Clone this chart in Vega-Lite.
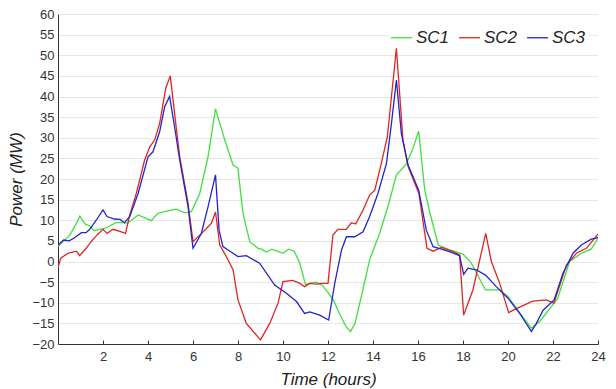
{
  "$schema": "https://vega.github.io/schema/vega-lite/v6.json",
  "width": 540,
  "height": 330,
  "autosize": {"type": "none"},
  "padding": {"left": 58, "top": 14, "right": 18, "bottom": 45},
  "background": "white",
  "config": {
    "font": "Liberation Sans",
    "view": {"stroke": null},
    "axis": {"labelFont": "Liberation Sans", "titleFont": "Liberation Sans", "labelColor": "#333333", "titleColor": "#222222", "domainColor": "#333333", "tickColor": "#333333"}
  },
  "data": {
    "values": [
      {"t": 0, "v": 3.6, "s": "SC1"}, {"t": 0.25, "v": 5, "s": "SC1"}, {"t": 0.5, "v": 6.2, "s": "SC1"}, {"t": 0.75, "v": 8.5, "s": "SC1"}, {"t": 0.97, "v": 11, "s": "SC1"}, {"t": 1.2, "v": 9.1, "s": "SC1"}, {"t": 1.41, "v": 8.6, "s": "SC1"}, {"t": 1.6, "v": 7.5, "s": "SC1"}, {"t": 2.07, "v": 8, "s": "SC1"}, {"t": 2.6, "v": 9.5, "s": "SC1"}, {"t": 3.1, "v": 9.3, "s": "SC1"}, {"t": 3.56, "v": 11.3, "s": "SC1"}, {"t": 4.15, "v": 9.9, "s": "SC1"}, {"t": 4.44, "v": 11.7, "s": "SC1"}, {"t": 4.89, "v": 12.3, "s": "SC1"}, {"t": 5.26, "v": 12.7, "s": "SC1"}, {"t": 5.63, "v": 11.8, "s": "SC1"}, {"t": 5.93, "v": 12.1, "s": "SC1"}, {"t": 6.3, "v": 16.5, "s": "SC1"}, {"t": 6.67, "v": 25.4, "s": "SC1"}, {"t": 7, "v": 37, "s": "SC1"}, {"t": 7.41, "v": 29.5, "s": "SC1"}, {"t": 7.78, "v": 23.4, "s": "SC1"}, {"t": 8, "v": 22.6, "s": "SC1"}, {"t": 8.1, "v": 17.5, "s": "SC1"}, {"t": 8.22, "v": 11.7, "s": "SC1"}, {"t": 8.52, "v": 4.8, "s": "SC1"}, {"t": 8.89, "v": 3.2, "s": "SC1"}, {"t": 9.05, "v": 3, "s": "SC1"}, {"t": 9.25, "v": 2.3, "s": "SC1"}, {"t": 9.5, "v": 3, "s": "SC1"}, {"t": 9.75, "v": 2.5, "s": "SC1"}, {"t": 10, "v": 2, "s": "SC1"}, {"t": 10.25, "v": 3, "s": "SC1"}, {"t": 10.5, "v": 2.5, "s": "SC1"}, {"t": 10.75, "v": -0.5, "s": "SC1"}, {"t": 11, "v": -5.6, "s": "SC1"}, {"t": 11.25, "v": -5.2, "s": "SC1"}, {"t": 11.5, "v": -5, "s": "SC1"}, {"t": 11.75, "v": -5.8, "s": "SC1"}, {"t": 12, "v": -7.5, "s": "SC1"}, {"t": 12.25, "v": -9.5, "s": "SC1"}, {"t": 12.5, "v": -12.5, "s": "SC1"}, {"t": 12.8, "v": -15.8, "s": "SC1"}, {"t": 13, "v": -17, "s": "SC1"}, {"t": 13.2, "v": -15, "s": "SC1"}, {"t": 13.5, "v": -8, "s": "SC1"}, {"t": 13.85, "v": 0.4, "s": "SC1"}, {"t": 14.3, "v": 6.9, "s": "SC1"}, {"t": 14.7, "v": 14, "s": "SC1"}, {"t": 15.04, "v": 21, "s": "SC1"}, {"t": 15.45, "v": 23.4, "s": "SC1"}, {"t": 15.75, "v": 27, "s": "SC1"}, {"t": 16.03, "v": 31.6, "s": "SC1"}, {"t": 16.3, "v": 17.3, "s": "SC1"}, {"t": 16.52, "v": 12, "s": "SC1"}, {"t": 16.9, "v": 4, "s": "SC1"}, {"t": 17.41, "v": 2.8, "s": "SC1"}, {"t": 18, "v": 1.8, "s": "SC1"}, {"t": 18.37, "v": -0.4, "s": "SC1"}, {"t": 19, "v": -6.9, "s": "SC1"}, {"t": 19.63, "v": -6.9, "s": "SC1"}, {"t": 20, "v": -8.5, "s": "SC1"}, {"t": 20.5, "v": -12.3, "s": "SC1"}, {"t": 21.04, "v": -16.2, "s": "SC1"}, {"t": 21.4, "v": -14.6, "s": "SC1"}, {"t": 22.05, "v": -10.1, "s": "SC1"}, {"t": 22.2, "v": -9, "s": "SC1"}, {"t": 22.74, "v": 0, "s": "SC1"}, {"t": 23.26, "v": 2, "s": "SC1"}, {"t": 23.7, "v": 3, "s": "SC1"}, {"t": 24, "v": 5.6, "s": "SC1"},
      {"t": 0, "v": -1.5, "s": "SC2"}, {"t": 0.12, "v": 0.8, "s": "SC2"}, {"t": 0.44, "v": 2, "s": "SC2"}, {"t": 0.82, "v": 2.5, "s": "SC2"}, {"t": 0.96, "v": 1.4, "s": "SC2"}, {"t": 1.25, "v": 3.2, "s": "SC2"}, {"t": 1.5, "v": 5, "s": "SC2"}, {"t": 1.75, "v": 6.5, "s": "SC2"}, {"t": 2, "v": 7.8, "s": "SC2"}, {"t": 2.18, "v": 6.8, "s": "SC2"}, {"t": 2.44, "v": 7.8, "s": "SC2"}, {"t": 2.75, "v": 7.3, "s": "SC2"}, {"t": 3, "v": 6.8, "s": "SC2"}, {"t": 3.19, "v": 11.3, "s": "SC2"}, {"t": 3.48, "v": 16.5, "s": "SC2"}, {"t": 3.85, "v": 24.6, "s": "SC2"}, {"t": 4.08, "v": 27.8, "s": "SC2"}, {"t": 4.3, "v": 29.5, "s": "SC2"}, {"t": 4.52, "v": 33.5, "s": "SC2"}, {"t": 4.79, "v": 42, "s": "SC2"}, {"t": 4.99, "v": 45, "s": "SC2"}, {"t": 5.2, "v": 35, "s": "SC2"}, {"t": 5.41, "v": 25.4, "s": "SC2"}, {"t": 5.78, "v": 14.1, "s": "SC2"}, {"t": 6, "v": 4.8, "s": "SC2"}, {"t": 6.3, "v": 6.4, "s": "SC2"}, {"t": 6.6, "v": 8, "s": "SC2"}, {"t": 6.82, "v": 9.3, "s": "SC2"}, {"t": 7, "v": 12, "s": "SC2"}, {"t": 7.19, "v": 4, "s": "SC2"}, {"t": 7.48, "v": 1.2, "s": "SC2"}, {"t": 7.78, "v": -2, "s": "SC2"}, {"t": 8, "v": -9.3, "s": "SC2"}, {"t": 8.37, "v": -15, "s": "SC2"}, {"t": 9, "v": -19, "s": "SC2"}, {"t": 9.41, "v": -15, "s": "SC2"}, {"t": 9.78, "v": -10.1, "s": "SC2"}, {"t": 10, "v": -4.9, "s": "SC2"}, {"t": 10.44, "v": -4.6, "s": "SC2"}, {"t": 10.75, "v": -5.3, "s": "SC2"}, {"t": 10.96, "v": -6.1, "s": "SC2"}, {"t": 11.19, "v": -5.3, "s": "SC2"}, {"t": 11.48, "v": -5.5, "s": "SC2"}, {"t": 11.75, "v": -5.3, "s": "SC2"}, {"t": 12, "v": -5.3, "s": "SC2"}, {"t": 12.22, "v": 6.4, "s": "SC2"}, {"t": 12.44, "v": 7.8, "s": "SC2"}, {"t": 12.81, "v": 7.8, "s": "SC2"}, {"t": 13.04, "v": 9.4, "s": "SC2"}, {"t": 13.23, "v": 9.1, "s": "SC2"}, {"t": 13.56, "v": 12.5, "s": "SC2"}, {"t": 13.85, "v": 16.1, "s": "SC2"}, {"t": 14.08, "v": 17.3, "s": "SC2"}, {"t": 14.37, "v": 23.8, "s": "SC2"}, {"t": 14.64, "v": 30.3, "s": "SC2"}, {"t": 15.04, "v": 51.7, "s": "SC2"}, {"t": 15.33, "v": 29.5, "s": "SC2"}, {"t": 15.56, "v": 23, "s": "SC2"}, {"t": 16.04, "v": 16.5, "s": "SC2"}, {"t": 16.4, "v": 3.2, "s": "SC2"}, {"t": 16.67, "v": 2.5, "s": "SC2"}, {"t": 17.04, "v": 3.4, "s": "SC2"}, {"t": 17.56, "v": 2.4, "s": "SC2"}, {"t": 17.85, "v": 1.6, "s": "SC2"}, {"t": 18.03, "v": -13, "s": "SC2"}, {"t": 18.44, "v": -6.9, "s": "SC2"}, {"t": 19.01, "v": 6.8, "s": "SC2"}, {"t": 19.26, "v": 0, "s": "SC2"}, {"t": 19.63, "v": -5.3, "s": "SC2"}, {"t": 20.03, "v": -12.4, "s": "SC2"}, {"t": 20.3, "v": -11.6, "s": "SC2"}, {"t": 21.1, "v": -9.6, "s": "SC2"}, {"t": 21.7, "v": -9.3, "s": "SC2"}, {"t": 22.04, "v": -10.1, "s": "SC2"}, {"t": 22.6, "v": -0.8, "s": "SC2"}, {"t": 23.04, "v": 2, "s": "SC2"}, {"t": 23.48, "v": 3.2, "s": "SC2"}, {"t": 24, "v": 6.6, "s": "SC2"},
      {"t": 0, "v": 4, "s": "SC3"}, {"t": 0.25, "v": 5.2, "s": "SC3"}, {"t": 0.5, "v": 5, "s": "SC3"}, {"t": 0.75, "v": 5.8, "s": "SC3"}, {"t": 1.04, "v": 7, "s": "SC3"}, {"t": 1.25, "v": 7, "s": "SC3"}, {"t": 1.41, "v": 7.8, "s": "SC3"}, {"t": 1.7, "v": 10, "s": "SC3"}, {"t": 2, "v": 12.5, "s": "SC3"}, {"t": 2.18, "v": 10.9, "s": "SC3"}, {"t": 2.5, "v": 10.3, "s": "SC3"}, {"t": 2.75, "v": 10.2, "s": "SC3"}, {"t": 2.96, "v": 9.4, "s": "SC3"}, {"t": 3.19, "v": 10.9, "s": "SC3"}, {"t": 3.56, "v": 16.5, "s": "SC3"}, {"t": 4, "v": 25.4, "s": "SC3"}, {"t": 4.22, "v": 26.6, "s": "SC3"}, {"t": 4.52, "v": 31.5, "s": "SC3"}, {"t": 4.74, "v": 37.5, "s": "SC3"}, {"t": 4.96, "v": 40, "s": "SC3"}, {"t": 5.2, "v": 32, "s": "SC3"}, {"t": 5.41, "v": 24.6, "s": "SC3"}, {"t": 5.78, "v": 13.3, "s": "SC3"}, {"t": 6, "v": 3.2, "s": "SC3"}, {"t": 6.37, "v": 6.8, "s": "SC3"}, {"t": 6.67, "v": 13.3, "s": "SC3"}, {"t": 7, "v": 21, "s": "SC3"}, {"t": 7.16, "v": 7.6, "s": "SC3"}, {"t": 7.33, "v": 3.6, "s": "SC3"}, {"t": 7.56, "v": 2.8, "s": "SC3"}, {"t": 8, "v": 1.2, "s": "SC3"}, {"t": 8.37, "v": 1.4, "s": "SC3"}, {"t": 8.96, "v": -0.4, "s": "SC3"}, {"t": 9.63, "v": -5.7, "s": "SC3"}, {"t": 10.15, "v": -7.7, "s": "SC3"}, {"t": 10.6, "v": -9.7, "s": "SC3"}, {"t": 10.96, "v": -12.6, "s": "SC3"}, {"t": 11.19, "v": -12.2, "s": "SC3"}, {"t": 11.63, "v": -13, "s": "SC3"}, {"t": 12.03, "v": -14.2, "s": "SC3"}, {"t": 12.3, "v": -5.3, "s": "SC3"}, {"t": 12.6, "v": 2.8, "s": "SC3"}, {"t": 12.82, "v": 6, "s": "SC3"}, {"t": 13.19, "v": 6, "s": "SC3"}, {"t": 13.56, "v": 7.2, "s": "SC3"}, {"t": 13.85, "v": 10.9, "s": "SC3"}, {"t": 14.22, "v": 16.5, "s": "SC3"}, {"t": 14.6, "v": 23.8, "s": "SC3"}, {"t": 14.82, "v": 33.5, "s": "SC3"}, {"t": 15.04, "v": 44, "s": "SC3"}, {"t": 15.26, "v": 31, "s": "SC3"}, {"t": 15.56, "v": 23.4, "s": "SC3"}, {"t": 16.03, "v": 17.3, "s": "SC3"}, {"t": 16.37, "v": 7.6, "s": "SC3"}, {"t": 16.67, "v": 3.6, "s": "SC3"}, {"t": 17.04, "v": 3, "s": "SC3"}, {"t": 17.4, "v": 2.4, "s": "SC3"}, {"t": 17.85, "v": 1.4, "s": "SC3"}, {"t": 18.03, "v": -3.1, "s": "SC3"}, {"t": 18.22, "v": -1.6, "s": "SC3"}, {"t": 18.59, "v": -2, "s": "SC3"}, {"t": 19, "v": -3.3, "s": "SC3"}, {"t": 19.48, "v": -6.1, "s": "SC3"}, {"t": 20, "v": -8.9, "s": "SC3"}, {"t": 20.52, "v": -12.6, "s": "SC3"}, {"t": 21.04, "v": -17, "s": "SC3"}, {"t": 21.26, "v": -15, "s": "SC3"}, {"t": 21.56, "v": -11.8, "s": "SC3"}, {"t": 22.05, "v": -9.3, "s": "SC3"}, {"t": 22.44, "v": -2.9, "s": "SC3"}, {"t": 22.89, "v": 2, "s": "SC3"}, {"t": 23.26, "v": 4, "s": "SC3"}, {"t": 23.7, "v": 5.4, "s": "SC3"}, {"t": 24, "v": 5.8, "s": "SC3"}
    ]
  },
  "mark": {"type": "line", "strokeWidth": 1.3, "clip": true},
  "encoding": {
    "x": {
      "field": "t", "type": "quantitative",
      "scale": {"domain": [0, 24], "nice": false, "zero": false},
      "axis": {"values": [2, 4, 6, 8, 10, 12, 14, 16, 18, 20, 22, 24], "grid": false, "tickSize": -4, "labelPadding": 10, "labelFontSize": 13, "title": "Time (hours)", "titleFontSize": 17, "titleFontStyle": "italic", "titleFontWeight": "normal", "titlePadding": 8, "labelFlush": false}
    },
    "y": {
      "field": "v", "type": "quantitative",
      "scale": {"domain": [-20, 60], "nice": false},
      "axis": {"values": [-20, -15, -10, -5, 0, 5, 10, 15, 20, 25, 30, 35, 40, 45, 50, 55, 60], "grid": true, "gridColor": "#e6e6e6", "ticks": false, "labelPadding": 4, "labelFontSize": 13, "title": "Power (MW)", "titleFontSize": 17, "titleFontStyle": "italic", "titleFontWeight": "normal", "titlePadding": 6, "labelFlush": false}
    },
    "stroke": {
      "field": "s", "type": "nominal",
      "scale": {"domain": ["SC1", "SC2", "SC3"], "range": ["#3fe03f", "#e02424", "#2424cc"]},
      "legend": {"title": null, "orient": "none", "direction": "horizontal", "legendX": 330, "legendY": 10, "fillColor": "white", "padding": 2, "symbolType": "stroke", "symbolSize": 440, "symbolStrokeWidth": 1.3, "labelFontSize": 17, "labelFontStyle": "italic", "labelColor": "#222222", "labelOffset": 3, "columnPadding": 6}
    }
  }
}
